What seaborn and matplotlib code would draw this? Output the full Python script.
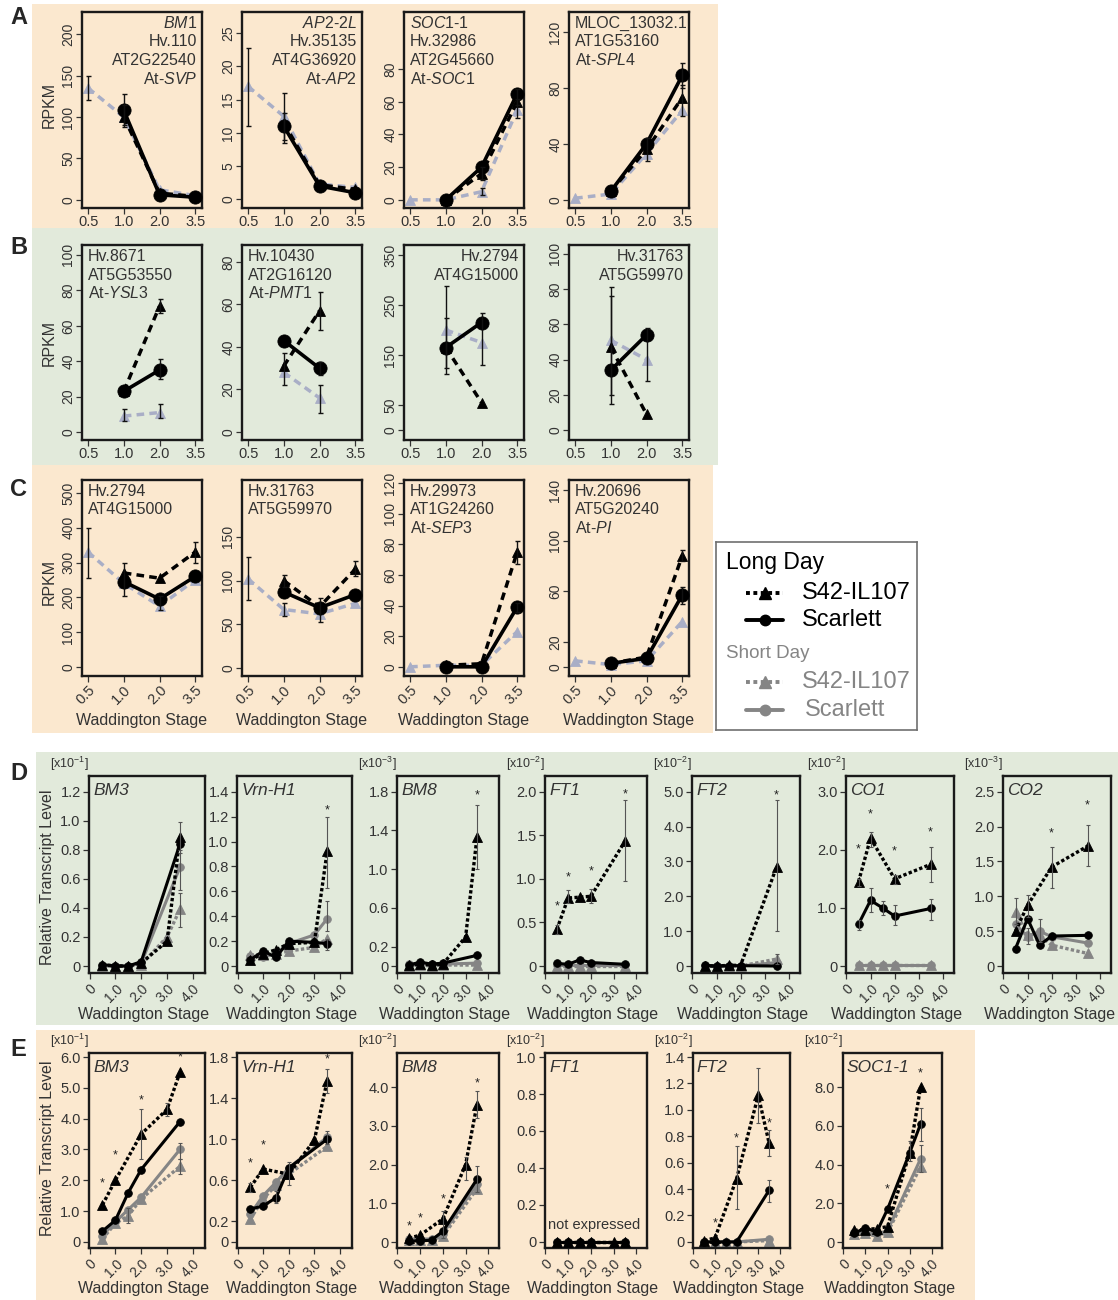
import numpy as np
import pandas as pd
import matplotlib
matplotlib.use("Agg")
import matplotlib.pyplot as plt
import seaborn as sns
from matplotlib.patches import Rectangle

nan = np.nan

# ---------------- RNA-seq panels (rows A-C), stages drawn as categories ----------------
rna_stages = [0.5, 1.0, 2.0, 3.5]
rna_stage_labels = ["0.5", "1.0", "2.0", "3.5"]

a_text = [["$\\mathit{BM1}$", "Hv.110", "AT2G22540", "At-$\\mathit{SVP}$"],
          ["$\\mathit{AP2}$-$\\mathit{2L}$", "Hv.35135", "AT4G36920", "At-$\\mathit{AP2}$"],
          ["$\\mathit{SOC1}$-$\\mathit{1}$", "Hv.32986", "AT2G45660", "At-$\\mathit{SOC1}$"],
          ["MLOC_13032.1", "AT1G53160", "At-$\\mathit{SPL4}$"]]
a_align = ["right", "right", "left", "left"]
a_yticks = [[0, 50, 100, 150, 200], [0, 5, 10, 15, 20, 25], [0, 20, 40, 60, 80], [0, 40, 80, 120]]
a_ylim = [(-10, 227), (-1.3, 28.2), (-5, 115), (-6, 134.5)]
a_ld_s42 = [[nan, 100, 8, 4], [nan, 11.5, 2.2, 1.5], [nan, 0, 16, 60], [nan, 6, 36, 73]]
a_ld_sca = [[nan, 108, 6, 3], [nan, 11, 2, 1], [nan, 0, 20, 65], [nan, 6, 40, 89]]
a_sd = [[135, 100, 12, 5], [17, 12.5, 2.3, 1.8], [0, 0, 5, 55], [1, 4, 33, 64]]
a_err = [[("sd", 0.5, 120, 150), ("ld_sca", 1.0, 88, 128), ("ld_s42", 1.0, 90, 115)],
         [("sd", 0.5, 11, 22.8), ("ld_sca", 1.0, 8.5, 16), ("ld_s42", 1.0, 9, 13)],
         [("ld_sca", 3.5, 58, 68), ("sd", 3.5, 50, 62), ("ld_s42", 2.0, 12, 20), ("sd", 2.0, 3, 7)],
         [("ld_sca", 3.5, 80, 98), ("ld_s42", 3.5, 60, 82), ("ld_s42", 2.0, 28, 44)]]

b_text = [["Hv.8671", "AT5G53550", "At-$\\mathit{YSL3}$"],
          ["Hv.10430", "AT2G16120", "At-$\\mathit{PMT1}$"],
          ["Hv.2794", "AT4G15000"],
          ["Hv.31763", "AT5G59970"]]
b_align = ["left", "left", "right", "right"]
b_yticks = [[0, 20, 40, 60, 80, 100], [0, 20, 40, 60, 80], [0, 50, 150, 250, 350], [0, 20, 40, 60, 80, 100]]
b_ylim = [(-4.5, 105.6), (-3.8, 88), (-20, 370), (-5.6, 105)]
b_ld_s42 = [[nan, 23, 71, nan], [nan, 31, 57, nan], [nan, 165, 55, nan], [nan, 47, 9, nan]]
b_ld_sca = [[nan, 23, 35, nan], [nan, 43, 30, nan], [nan, 165, 215, nan], [nan, 34, 54, nan]]
b_sd = [[nan, 9, 11, nan], [nan, 28, 16, nan], [nan, 200, 175, nan], [nan, 51, 40, nan]]
b_err = [[("sd", 1.0, 6, 13), ("sd", 2.0, 8, 16), ("ld_sca", 2.0, 30, 41), ("ld_s42", 2.0, 67, 75)],
         [("ld_s42", 1.0, 22, 37), ("ld_s42", 2.0, 48, 66), ("sd", 2.0, 9, 22), ("ld_sca", 2.0, 27, 33)],
         [("ld_sca", 1.0, 113, 288), ("sd", 1.0, 125, 225), ("ld_sca", 2.0, 130, 235)],
         [("ld_sca", 1.0, 15, 81), ("ld_s42", 1.0, 20, 76), ("ld_sca", 2.0, 28, 58)]]

c_text = [["Hv.2794", "AT4G15000"],
          ["Hv.31763", "AT5G59970"],
          ["Hv.29973", "AT1G24260", "At-$\\mathit{SEP3}$"],
          ["Hv.20696", "AT5G20240", "At-$\\mathit{PI}$"]]
c_align = ["left", "left", "left", "left"]
c_yticks = [[0, 100, 200, 300, 400, 500], [0, 50, 100, 150], [0, 20, 40, 60, 80, 100, 120], [0, 20, 60, 100, 140]]
c_ylim = [(-26, 537), (-9, 215), (-6, 122), (-7, 148)]
c_ld_s42 = [[nan, 270, 255, 330], [nan, 100, 70, 113], [nan, 1, 2, 75], [nan, 3, 8, 88]]
c_ld_sca = [[nan, 245, 195, 260], [nan, 87, 69, 84], [nan, 0, 0, 39], [nan, 3, 7, 57]]
c_sd = [[330, 240, 175, 250], [102, 67, 62, 74], [0, 1, 1, 23], [5, 2, 5, 36]]
c_err = [[("sd", 0.5, 255, 400), ("ld_sca", 1.0, 205, 300), ("ld_sca", 2.0, 165, 205), ("ld_s42", 3.5, 300, 358)],
         [("sd", 0.5, 78, 127), ("ld_s42", 1.0, 93, 107), ("sd", 1.0, 60, 75), ("ld_sca", 2.0, 53, 80),
          ("ld_s42", 3.5, 105, 122)],
         [("ld_s42", 3.5, 67, 82), ("ld_sca", 3.5, 36, 42)],
         [("ld_s42", 3.5, 84, 93), ("ld_sca", 3.5, 50, 63)]]

# ---------------- qRT-PCR panels (rows D-E), stage on a numeric axis ----------------
qpcr_stages = [0.5, 1.0, 1.5, 2.0, 3.0, 3.5]

d_genes = ["BM3", "Vrn-H1", "BM8", "FT1", "FT2", "CO1", "CO2"]
d_mult = ["-1", None, "-3", "-2", "-2", "-2", "-3"]
d_yticks = [[0, 0.2, 0.4, 0.6, 0.8, 1.0, 1.2], [0, 0.2, 0.4, 0.6, 0.8, 1.0, 1.2, 1.4],
            [0, 0.2, 0.6, 1.0, 1.4, 1.8], [0, 0.5, 1.0, 1.5, 2.0], [0, 1, 2, 3, 4, 5],
            [0, 1, 2, 3], [0, 0.5, 1.0, 1.5, 2.0, 2.5]]
d_ld_s42 = [[0.01, 0.0, 0.0, 0.02, 0.17, 0.89],
            [0.05, 0.10, 0.13, 0.18, 0.19, 0.92],
            [0.01, 0.02, 0.01, 0.02, 0.30, 1.33],
            [0.42, 0.78, 0.79, 0.80, nan, 1.43],
            [0.0, 0.0, 0.02, 0.02, nan, 2.85],
            [1.45, 2.20, nan, 1.50, nan, 1.75],
            [0.50, 0.87, nan, 1.42, nan, 1.72]]
d_ld_sca = [[0.01, 0.0, 0.0, 0.03, nan, 0.84],
            [0.05, 0.12, 0.07, 0.20, 0.19, 0.18],
            [0.01, 0.04, 0.02, 0.03, nan, 0.11],
            [0.03, 0.02, 0.07, 0.04, nan, 0.02],
            [0.02, 0.0, 0.01, 0.01, nan, 0.0],
            [0.72, 1.13, 1.00, 0.86, nan, 0.99],
            [0.25, 0.68, 0.30, 0.43, nan, 0.44]]
d_sd_s42 = [[0.0, 0.0, 0.0, 0.01, 0.20, 0.39],
            [0.09, 0.09, 0.10, 0.12, 0.15, 0.22],
            [0.0, 0.01, 0.0, 0.01, nan, 0.01],
            [0.0, 0.0, 0.0, 0.0, nan, 0.0],
            [0.0, 0.0, 0.0, 0.0, nan, 0.20],
            [0.02, 0.02, 0.02, 0.02, nan, 0.02],
            [0.78, 0.45, 0.45, 0.30, nan, 0.18]]
d_sd_sca = [[0.0, 0.0, 0.0, 0.02, nan, 0.68],
            [0.08, 0.07, 0.10, 0.18, 0.25, 0.38],
            [0.02, 0.02, 0.02, 0.02, nan, 0.03],
            [0.01, 0.01, 0.01, 0.01, nan, 0.01],
            [0.0, 0.0, 0.0, 0.0, nan, 0.10],
            [0.01, 0.01, 0.01, 0.01, nan, 0.01],
            [0.60, 0.42, 0.50, 0.42, nan, 0.33]]
d_err = [[("ld_s42", 3.5, 0.78, 0.99), ("sd_sca", 3.5, 0.52, 0.80), ("sd_s42", 3.5, 0.27, 0.50)],
         [("ld_s42", 3.5, 0.63, 1.20), ("sd_sca", 3.5, 0.28, 0.52), ("ld_sca", 3.5, 0.13, 0.22)],
         [("ld_s42", 3.5, 1.00, 1.66)],
         [("ld_s42", 0.5, 0.37, 0.47), ("ld_s42", 1.0, 0.72, 0.87), ("ld_s42", 2.0, 0.72, 0.88),
          ("ld_s42", 3.5, 0.97, 1.90)],
         [("ld_s42", 3.5, 1.00, 4.75), ("sd_s42", 3.5, 0.05, 0.35)],
         [("ld_s42", 0.5, 1.38, 1.50), ("ld_s42", 1.0, 2.05, 2.30), ("ld_s42", 2.0, 1.42, 1.57),
          ("ld_s42", 3.5, 1.45, 2.05), ("ld_sca", 0.5, 0.62, 0.80), ("ld_sca", 1.0, 0.93, 1.35),
          ("ld_sca", 1.5, 0.88, 1.12), ("ld_sca", 2.0, 0.70, 1.05), ("ld_sca", 3.5, 0.80, 1.15)],
         [("ld_s42", 1.0, 0.70, 1.02), ("ld_s42", 2.0, 1.12, 1.70), ("ld_s42", 3.5, 1.43, 2.02),
          ("sd_s42", 0.5, 0.60, 0.98), ("sd_sca", 1.0, 0.32, 0.55), ("sd_sca", 1.5, 0.35, 0.68)]]
d_star = [[], [(3.5, 1.25)], [(3.5, 1.76)], [(0.5, 0.68), (1.0, 1.02), (2.0, 1.08), (3.5, 1.97)],
          [(3.5, 4.9)], [(0.5, 2.0), (1.0, 2.6), (2.0, 1.97), (3.5, 2.3)], [(2.0, 1.9), (3.5, 2.3)]]

e_genes = ["BM3", "Vrn-H1", "BM8", "FT1", "FT2", "SOC1-1"]
e_mult = ["-1", None, "-2", "-2", "-2", "-2"]
e_yticks = [[0, 1, 2, 3, 4, 5, 6], [0, 0.2, 0.6, 1.0, 1.4, 1.8], [0, 1, 2, 3, 4],
            [0, 0.2, 0.4, 0.6, 0.8, 1.0], [0, 0.2, 0.4, 0.6, 0.8, 1.0, 1.2, 1.4], [0, 2, 4, 6, 8]]
e_ld_s42 = [[1.20, 2.00, nan, 3.50, 4.30, 5.50],
            [0.53, 0.71, nan, 0.66, 0.99, 1.57],
            [0.10, 0.18, nan, 0.60, 2.00, 3.55],
            [0.0, 0.0, 0.0, 0.0, 0.0, 0.0],
            [0.01, 0.03, nan, 0.48, 1.11, 0.75],
            [0.60, 0.65, 0.70, 0.80, 4.60, 8.00]]
e_ld_sca = [[0.35, 0.70, 1.60, 2.35, nan, 3.90],
            [0.32, 0.35, 0.43, 0.72, nan, 1.00],
            [0.03, 0.03, 0.05, 0.28, nan, 1.62],
            [0.0, 0.0, 0.0, 0.0, nan, 0.0],
            [0.0, 0.0, 0.0, 0.0, nan, 0.39],
            [0.45, 0.75, 0.50, 1.70, 4.60, 6.10]]
e_sd_s42 = [[0.10, 0.60, 0.85, 1.40, nan, 2.45],
            [0.22, 0.42, 0.55, 0.66, nan, 0.93],
            [0.05, 0.05, 0.05, 0.15, nan, 1.38],
            [0.0, 0.0, 0.0, 0.0, nan, 0.0],
            [0.0, 0.0, 0.0, 0.0, nan, 0.01],
            [0.40, 0.45, 0.30, 0.50, nan, 3.90]]
e_sd_sca = [[0.20, 0.65, 1.05, 1.45, nan, 3.00],
            [0.27, 0.45, 0.58, 0.72, nan, 1.02],
            [0.08, 0.08, 0.08, 0.22, nan, 1.50],
            [0.0, 0.0, 0.0, 0.0, nan, 0.0],
            [0.0, 0.0, 0.0, 0.0, nan, 0.02],
            [0.50, 0.50, 0.40, 0.60, nan, 4.30]]
e_err = [[("ld_s42", 2.0, 2.7, 4.3), ("ld_s42", 3.0, 4.1, 4.5), ("sd_sca", 3.5, 2.7, 3.2),
          ("sd_s42", 3.5, 2.2, 2.7), ("sd_s42", 1.5, 0.6, 1.1)],
         [("ld_s42", 3.5, 1.45, 1.68), ("ld_sca", 2.0, 0.55, 0.78), ("ld_s42", 0.5, 0.49, 0.57),
          ("sd_sca", 3.5, 0.95, 1.08), ("ld_sca", 1.5, 0.38, 0.50)],
         [("ld_s42", 3.5, 3.2, 3.9), ("ld_s42", 3.0, 1.6, 2.2), ("ld_sca", 3.5, 1.3, 1.97),
          ("sd_s42", 2.0, 0.1, 0.8)],
         [],
         [("ld_s42", 2.0, 0.25, 0.73), ("ld_s42", 3.0, 0.90, 1.32), ("ld_s42", 3.5, 0.65, 0.85),
          ("ld_sca", 3.5, 0.30, 0.47)],
         [("ld_sca", 3.5, 5.2, 6.9), ("sd_sca", 3.5, 3.6, 5.0), ("ld_s42", 3.0, 4.2, 5.2)]]
e_star = [[(0.5, 1.9), (1.0, 2.8), (2.0, 4.6), (3.5, 6.0)], [(0.5, 0.76), (1.0, 0.94), (3.5, 1.78)],
          [(0.5, 0.4), (1.0, 0.6), (2.0, 1.1), (3.5, 4.1)], [], [(1.0, 0.14), (2.0, 0.78), (3.5, 0.9)],
          [(2.0, 2.7), (3.5, 8.7)]]

# ---------------- styling ----------------
sns.set_style("ticks")
plt.rcParams["font.family"] = ["Liberation Sans", "DejaVu Sans"]
plt.rcParams["mathtext.fontset"] = "custom"
plt.rcParams["mathtext.rm"] = "Liberation Sans"
plt.rcParams["mathtext.it"] = "Liberation Sans:italic"
plt.rcParams["mathtext.bf"] = "Liberation Sans:bold"

ORANGE = "#fbe8cf"
GREEN = "#e2eadb"
SD_BLUE = "#a9aec6"
GREY = "#858585"
TXT = "#333333"

W, H = 1118, 1300
fig = plt.figure(figsize=(W / 100, H / 100), dpi=100)


def axes_px(l, t, w, h):
    return fig.add_axes([l / W, 1 - (t + h) / H, w / W, h / H])


def band(l, t, r, b, color):
    fig.add_artist(Rectangle((l / W, 1 - b / H), (r - l) / W, (b - t) / H,
                             transform=fig.transFigure, color=color, zorder=-5, lw=0))


def style_box(ax, tick_len, pad):
    ax.set_facecolor("none")
    for sp in ax.spines.values():
        sp.set_visible(True)
        sp.set_linewidth(1.7)
        sp.set_color("#1a1a1a")
    ax.tick_params(direction="out", length=tick_len, width=0.9, color="#333333", labelcolor=TXT, pad=pad)
    ax.set_xlabel("")
    ax.set_ylabel("")


def draw_line(ax, xs, ys, st):
    df = pd.DataFrame({"x": xs, "y": ys}).dropna()
    if df.empty:
        return
    sns.lineplot(data=df, x="x", y="y", ax=ax, color=st["color"], marker=st["marker"],
                 linestyle=st["ls"], markersize=st["ms"], linewidth=st["lw"],
                 markeredgecolor=st["color"], markeredgewidth=0.6, estimator=None,
                 sort=False, legend=False, zorder=st["z"])


def draw_err(ax, errs, xpos, color, lw, cap):
    for _, st, lo, hi in errs:
        ax.errorbar([xpos(st)], [(lo + hi) / 2], yerr=[[(hi - lo) / 2]], fmt="none",
                    ecolor=color, elinewidth=lw, capsize=cap, capthick=lw, zorder=6)


def gene_text(ax, lines, align, fs, first, step):
    x = 0.96 if align == "right" else 0.05
    for i, s in enumerate(lines):
        ax.annotate(s, xy=(x, 1), xycoords="axes fraction",
                    xytext=(0, -(first + i * step) * 0.72), textcoords="offset points",
                    ha=align, va="baseline", fontsize=fs, color=TXT)


rna_styles = {
    "sd": dict(color=SD_BLUE, marker="^", ls=(0, (2.2, 1.5)), ms=7, lw=2.5, z=2),
    "ld_s42": dict(color="black", marker="^", ls=(0, (2.2, 1.5)), ms=7.5, lw=2.5, z=3),
    "ld_sca": dict(color="black", marker="o", ls="-", ms=9.5, lw=2.6, z=4),
}
qpcr_styles = {
    "sd_sca": dict(color=GREY, marker="o", ls="-", ms=5.5, lw=2.2, z=2),
    "sd_s42": dict(color=GREY, marker="^", ls=(0, (1, 0.7)), ms=6.5, lw=2.4, z=2),
    "ld_sca": dict(color="black", marker="o", ls="-", ms=5.5, lw=2.2, z=3),
    "ld_s42": dict(color="black", marker="^", ls=(0, (1, 0.7)), ms=6.5, lw=2.4, z=3),
}

# background bands
band(32, 4, 718, 228, ORANGE)
band(32, 228, 718, 465, GREEN)
band(32, 465, 713, 733, ORANGE)
band(36, 752, 1118, 1025, GREEN)
band(36, 1030, 975, 1300, ORANGE)

# ---------------- rows A-C ----------------
rna_lefts = [82, 242, 404, 569]
rna_rows = [
    (12, 196, a_text, a_align, a_yticks, a_ylim, a_ld_s42, a_ld_sca, a_sd, a_err),
    (245, 195, b_text, b_align, b_yticks, b_ylim, b_ld_s42, b_ld_sca, b_sd, b_err),
    (480, 196, c_text, c_align, c_yticks, c_ylim, c_ld_s42, c_ld_sca, c_sd, c_err),
]
rna_pos = lambda s: rna_stages.index(s)
for r, (top, hgt, texts, aligns, yts, ylims, s42, sca, sd, errs) in enumerate(rna_rows):
    for i in range(4):
        ax = axes_px(rna_lefts[i], top, 120, hgt)
        idx = list(range(len(rna_stages)))
        draw_line(ax, idx, sd[i], rna_styles["sd"])
        draw_line(ax, idx, s42[i], rna_styles["ld_s42"])
        draw_line(ax, idx, sca[i], rna_styles["ld_sca"])
        draw_err(ax, errs[i], rna_pos, "#111111", 1.0, 1.8)
        style_box(ax, 4, 0.8)
        ax.set_xlim(-0.17, 3.19)
        ax.set_ylim(*ylims[i])
        ax.set_yticks(yts[i])
        ax.set_yticklabels([str(v) for v in yts[i]], rotation=90, va="center", fontsize=10)
        ax.set_xticks(idx)
        if r == 2:
            ax.set_xticklabels(rna_stage_labels, rotation=45, ha="right", va="top",
                               rotation_mode="anchor", fontsize=10.5)
            fig.text((rna_lefts[i] + 60) / W, 1 - 720 / H, "Waddington Stage", ha="center",
                     va="center", fontsize=11.5, color=TXT)
        else:
            ax.set_xticklabels(rna_stage_labels, fontsize=10.5)
        gene_text(ax, texts[i], aligns[i], 11.5, 16, 18.5)

for y in (105, 343, 582):
    fig.text(49 / W, 1 - y / H, "RPKM", rotation=90, ha="center", va="center", fontsize=11.5, color=TXT)

# ---------------- rows D-E ----------------
d_boxes = [(89, 116), (237, 115), (397, 102), (545, 102), (692, 108), (846, 108), (1003, 108)]
e_boxes = [(89, 116), (237, 115), (397, 102), (545, 102), (693, 97), (843, 99)]
qpcr_rows = [
    (776, 197, d_boxes, d_genes, d_mult, d_yticks, d_ld_s42, d_ld_sca, d_sd_s42, d_sd_sca, d_err, d_star, 1015),
    (1053, 195, e_boxes, e_genes, e_mult, e_yticks, e_ld_s42, e_ld_sca, e_sd_s42, e_sd_sca, e_err, e_star, 1289),
]


def fmt(v):
    return "0" if v == 0 else f"{v:.1f}"


for top, hgt, boxes, genes, mults, yts, s42, sca, ss42, ssca, errs, stars, xl_y in qpcr_rows:
    for i, (left, wid) in enumerate(boxes):
        ax = axes_px(left, top, wid, hgt)
        draw_line(ax, qpcr_stages, ssca[i], qpcr_styles["sd_sca"])
        draw_line(ax, qpcr_stages, ss42[i], qpcr_styles["sd_s42"])
        draw_line(ax, qpcr_stages, sca[i], qpcr_styles["ld_sca"])
        draw_line(ax, qpcr_stages, s42[i], qpcr_styles["ld_s42"])
        draw_err(ax, errs[i], lambda s: s, "#555555", 0.8, 1.5)
        for sx, sy in stars[i]:
            ax.text(sx, sy, "*", ha="center", va="center", fontsize=9, color="#222222", zorder=7)
        style_box(ax, 4.5, 1.5)
        top_tick = yts[i][-1]
        if top == 1053 and top_tick in (4, 8):
            ax.set_ylim(-0.038 * top_tick, 1.22 * top_tick)
        elif top == 1053:
            ax.set_ylim(-0.033 * top_tick, 1.022 * top_tick)
        else:
            ax.set_ylim(-0.04 * top_tick, 1.09 * top_tick)
        ax.set_xlim(-0.02, 4.47)
        ax.set_yticks(yts[i])
        ax.set_yticklabels([fmt(v) for v in yts[i]], fontsize=10.5)
        ax.set_xticks([0, 1, 2, 3, 4])
        ax.set_xticklabels(["0", "1.0", "2.0", "3.0", "4.0"], rotation=45, ha="right", va="top",
                           rotation_mode="anchor", fontsize=10)
        ax.text(0.04, 0.965, genes[i], transform=ax.transAxes, ha="left", va="top",
                fontsize=12.5, fontstyle="italic", color=TXT)
        if mults[i] is not None:
            ax.text(0.0, 1.015, "[x10$^{" + mults[i].replace("-", "\u2212") + "}$]",
                    transform=ax.transAxes, ha="right", va="bottom", fontsize=9, color=TXT)
        if genes[i] == "FT1" and top == 1053:
            ax.text(0.48, 0.118, "not expressed", transform=ax.transAxes, ha="center",
                    va="center", fontsize=10.5, color=TXT)
        cx = min(left + wid / 2 - 3, 1050)
        fig.text(cx / W, 1 - xl_y / H, "Waddington Stage", ha="center",
                 va="center", fontsize=11.5, color=TXT)

for y in (877, 1148):
    fig.text(48 / W, 1 - y / H, "Relative Transcript Level", rotation=90, ha="center",
             va="center", fontsize=11.5, color=TXT)

# panel letters
for letter, y in zip("ABCDE", (18, 247, 490, 773, 1050)):
    fig.text(10 / W, 1 - y / H, letter, ha="left", va="center", fontsize=17, fontweight="bold")

# ---------------- legend ----------------
lg = axes_px(716, 542, 201, 188)
lg.set_xlim(0, 201)
lg.set_ylim(188, 0)
lg.set_xticks([])
lg.set_yticks([])
lg.set_facecolor("white")
for sp in lg.spines.values():
    sp.set_visible(True)
    sp.set_color("#707070")
    sp.set_linewidth(1.2)
lg.text(10, 20, "Long Day", ha="left", va="center", fontsize=16.5, color="black")
lg.text(10, 111, "Short Day", ha="left", va="center", fontsize=13.5, color=GREY)
for y, col, mk, ls, lab, tx in [(51, "black", "^", (0, (1, 0.9)), "S42-IL107", 86),
                                (78, "black", "o", "-", "Scarlett", 86),
                                (140, GREY, "^", (0, (1, 0.9)), "S42-IL107", 86),
                                (168, GREY, "o", "-", "Scarlett", 89)]:
    lg.plot([30, 67], [y, y], color=col, linestyle=ls, linewidth=2.8)
    lg.plot([48.5], [y], color=col, marker=mk, markersize=8 if mk == "^" else 7.5, linestyle="none")
    lg.text(tx, y, lab, ha="left", va="center", fontsize=17, color=col)

fig.savefig("out.png", dpi=100)
